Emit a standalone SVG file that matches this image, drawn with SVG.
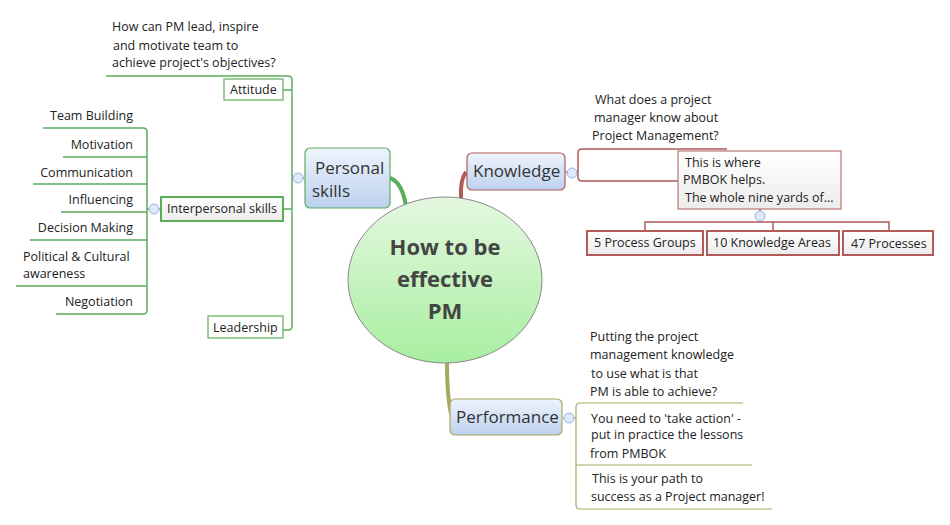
<svg xmlns="http://www.w3.org/2000/svg" width="950" height="525" viewBox="0 0 950 525">
<defs>
<linearGradient id="bg" x1="0" y1="0" x2="0" y2="1"><stop offset="0" stop-color="#eef4fc"/><stop offset="1" stop-color="#bcd1ef"/></linearGradient>
<linearGradient id="cg" x1="0" y1="0" x2="0" y2="1"><stop offset="0" stop-color="#e4f8e0"/><stop offset="1" stop-color="#a8eea0"/></linearGradient>
<linearGradient id="wg" x1="0" y1="0" x2="0" y2="1"><stop offset="0" stop-color="#ffffff"/><stop offset="1" stop-color="#ececec"/></linearGradient>
</defs>
<style>
text{font-family:"Open Sans","Liberation Sans",sans-serif;font-size:12.5px;fill:#222}
.g{fill:none;stroke:#5aad5a;stroke-width:1.5}
.r{fill:none;stroke:#b05a5a;stroke-width:1.5}
.o{fill:none;stroke:#a8a860;stroke-width:1.2}
.col{fill:#dfe9fb;stroke:#9ab3e0;stroke-width:1}
.main{font-size:17px;fill:#333}
.r2{text-anchor:end}
</style>
<g id="connectors">
<path d="M390,178 Q402,182 406,206" fill="none" stroke="#5aad5a" stroke-width="4"/>
<path d="M466,172 Q460,180 461,198" fill="none" stroke="#b05a5a" stroke-width="4"/>
<path d="M447,362 Q447,400 452,417" fill="none" stroke="#a8a860" stroke-width="4"/>
<path class="g" d="M304,178 H292"/>
<path class="g" d="M106,76 H288 Q292,76 292,80 V326 Q292,330 288,330 H283"/>
<path class="g" d="M283,90 H292 M283,209 H292"/>
<path class="g" d="M160,209 H147"/>
<path class="g" d="M43,128 H143 Q147,128 147,132 V310 Q147,314 143,314 H56"/>
<path class="g" d="M63,157 H147 M33,184 H147 M61,212 H147 M30,240 H147 M16,286 H147"/>
<path class="r" d="M566,172 H578"/>
<path class="r" d="M727,149 H582 Q578,149 578,153 V177 Q578,181 582,181 H678"/>
<path class="r" d="M645,231 V222 H889 V231 M760,209 V222 M773,222 V231"/>
<path class="o" d="M563,418 H576"/>
<path class="o" d="M743,403 H580 Q576,403 576,407 V505 Q576,509 580,509 H772 M576,465 H752"/>
</g>
<g id="central">
<ellipse cx="445" cy="280" rx="97" ry="83" fill="url(#cg)" stroke="#888" stroke-width="1"/>
<text x="445" y="255" text-anchor="middle" style="font-size:22px;font-weight:bold;fill:#444">How to be</text>
<text x="445" y="287" text-anchor="middle" style="font-size:22px;font-weight:bold;fill:#444">effective</text>
<text x="445" y="319" text-anchor="middle" style="font-size:22px;font-weight:bold;fill:#444">PM</text>
</g>
<g id="personal">
<rect x="305" y="148" width="85" height="60" rx="5" fill="url(#bg)" stroke="#5aad5a" stroke-width="1.2"/>
<text x="315" y="174" class="main">Personal</text>
<text x="312" y="197" class="main">skills</text>
<circle cx="298" cy="178" r="5" class="col"/>
</g>
<g id="attitude-q"><text x="112" y="31">How can PM lead, inspire</text><text x="113" y="50">and motivate team to</text><text x="112" y="67">achieve project's objectives?</text></g>
<g id="attitude"><rect x="224" y="79" width="59" height="21" fill="#fff" stroke="#5aad5a" stroke-width="1.2"/><text x="230" y="94">Attitude</text></g>
<g id="interpersonal"><rect x="161" y="197" width="122" height="24" fill="url(#wg)" stroke="#5aad5a" stroke-width="2"/><text x="167" y="213">Interpersonal skills</text><circle cx="154" cy="209" r="5" class="col"/></g>
<g id="leadership"><rect x="208" y="316" width="75" height="22" fill="#fff" stroke="#5aad5a" stroke-width="1.2"/><text x="213" y="332">Leadership</text></g>
<g id="items">
<text x="133" y="120" class="r2">Team Building</text>
<text x="133" y="149" class="r2">Motivation</text>
<text x="133" y="177" class="r2">Communication</text>
<text x="133" y="204" class="r2">Influencing</text>
<text x="133" y="232" class="r2">Decision Making</text>
<text x="23" y="261">Political &amp; Cultural</text>
<text x="23" y="278">awareness</text>
<text x="133" y="306" class="r2">Negotiation</text>
</g>
<g id="knowledge">
<rect x="467" y="153" width="98" height="37" rx="5" fill="url(#bg)" stroke="#b05a5a" stroke-width="1.2"/>
<text x="473" y="177" class="main">Knowledge</text>
<circle cx="572" cy="173" r="5" class="col"/>
</g>
<g id="knowledge-q"><text x="595" y="104">What does a project</text><text x="594" y="122">manager know about</text><text x="592" y="140">Project Management?</text></g>
<g id="pmbok"><rect x="678" y="151" width="163" height="58" fill="url(#wg)" stroke="#b05a5a" stroke-width="1"/><text x="685" y="167">This is where</text><text x="683" y="184">PMBOK helps.</text><text x="685" y="202">The whole nine yards of...</text><circle cx="760" cy="216" r="5" class="col"/></g>
<g id="pg"><rect x="587" y="231" width="116" height="24" fill="url(#wg)" stroke="#b05a5a" stroke-width="2"/><text x="594" y="247">5 Process Groups</text></g>
<g id="ka"><rect x="707" y="231" width="132" height="24" fill="url(#wg)" stroke="#b05a5a" stroke-width="2"/><text x="713" y="247">10 Knowledge Areas</text></g>
<g id="pr"><rect x="843" y="231" width="90" height="24" fill="url(#wg)" stroke="#b05a5a" stroke-width="2"/><text x="851" y="248">47 Processes</text></g>
<g id="performance">
<rect x="450" y="399" width="112" height="36" rx="5" fill="url(#bg)" stroke="#a8a860" stroke-width="1.2"/>
<text x="456" y="423" class="main">Performance</text>
<circle cx="569" cy="418" r="5" class="col"/>
</g>
<g id="perf-q"><text x="590" y="341">Putting the project</text><text x="590" y="359">management knowledge</text><text x="591" y="378">to use what is that</text><text x="590" y="396">PM is able to achieve?</text></g>
<g id="perf-a"><text x="591" y="423">You need to 'take action' -</text><text x="591" y="439">put in practice the lessons</text><text x="590" y="458">from PMBOK</text></g>
<g id="perf-b"><text x="592" y="483">This is your path to</text><text x="591" y="501">success as a Project manager!</text></g>
</svg>
